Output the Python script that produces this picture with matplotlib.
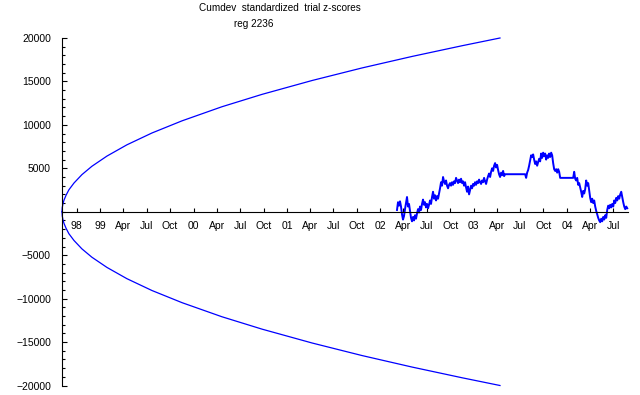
import matplotlib
matplotlib.use('Agg')
import matplotlib.pyplot as plt
import numpy as np
import pandas as pd

plt.rcParams['font.family'] = ['Liberation Sans', 'DejaVu Sans']

# project start, x axis is days since this date
start = pd.Timestamp('1998-08-04')

# envelope (upper branch)
env_days = [0, 1, 4, 8, 16, 27, 47, 78, 117, 176, 254, 352, 470, 626, 783,
            979, 1174, 1370, 1566, 1714]
env_vals = [0, 480, 956, 1351, 1911, 2528, 3310, 4274, 5234, 6410, 7704,
            9066, 10468, 12088, 13514, 15110, 16552, 17878, 19112, 20000]

# cumulative deviation, evenly sampled between these dates
walk_first = '2002-03-07'
walk_last = '2004-08-24'
walk_vals = [
    200, 1100, 700, 1200, 600, -300, -900, -500, 300, 1000,
    1700, 600, 900, 100, -700, -1100, -600, -1000, -400, -800,
    -200, 300, -100, 600, 200, 900, 1400, 800, 1100, 500,
    900, 400, 800, 1300, 900, 1700, 2300, 1500, 1900, 1300,
    1800, 1500, 2100, 2700, 3400, 3000, 4000, 3500, 3200, 3600,
    3000, 2700, 3100, 3300, 3000, 3400, 3100, 3500, 3300, 3900,
    3600, 3300, 3700, 3400, 3800, 3300, 3500, 3000, 3400, 2800,
    2300, 2900, 2000, 2500, 3000, 2700, 3200, 3000, 3400, 3100,
    3500, 3300, 3700, 3400, 3200, 3600, 3400, 3900, 3500, 3200,
    3700, 4100, 4400, 4000, 4600, 5000, 4700, 5300, 5600, 5100,
    5400, 4800, 4300, 4000, 4500, 4200, 4700, 4100,
    4320, 4320, 4320, 4320, 4320, 4320, 4320, 4320, 4320, 4320,
    4320, 4320, 4320, 4320, 4320, 4320, 4320, 4320, 4320, 4320, 4320,
    3900, 4500, 4800, 5300, 5900, 6500, 6300, 6600, 6000, 5500,
    5800, 5300, 5700, 6100, 5800, 6700, 6200, 6800, 6400, 6700,
    6000, 6500, 6200, 6700, 6300, 6800, 6500, 5600, 4900, 4700,
    4900, 4500, 4900, 4600,
    3900, 3900, 3900, 3900, 3900, 3900, 3900, 3900, 3900, 3900,
    3900, 3900, 3900, 3900,
    4600, 3800, 3600, 3900, 3100, 3300, 2800, 2300, 1700, 2400,
    2100, 2600, 3600, 3000, 3300, 2400, 1600, 1100, 1500, 1000,
    1300, 600, 100, -300, -700, -1000, -1200, -800, -1100, -600,
    -900, -400, -700, 200, 700, 400, 800, 500, 900, 600,
    1300, 1000, 1600, 1300, 1800, 1500, 2000, 2300, 1700, 1100,
    600, 300, 600, 400,
]

tick_dates = pd.date_range('1998-10-01', '2004-07-01', freq='QS')
tick_labels = ['98', '99', 'Apr', 'Jul', 'Oct', '00', 'Apr', 'Jul', 'Oct',
               '01', 'Apr', 'Jul', 'Oct', '02', 'Apr', 'Jul', 'Oct',
               '03', 'Apr', 'Jul', 'Oct', '04', 'Apr', 'Jul']

y_ticks = [-20000, -15000, -10000, -5000, 5000, 10000, 15000, 20000]
y_labels = ['\u221220000', '\u221215000', '\u221210000', '\u22125000',
            '5000', '10000', '15000', '20000']

walk_dates = pd.date_range(walk_first, walk_last, periods=len(walk_vals))
walk_days = (walk_dates - start) / pd.Timedelta(days=1)
tick_days = (tick_dates - start) / pd.Timedelta(days=1)

fig = plt.figure(figsize=(6.4, 3.95), dpi=100)
ax = fig.add_axes([62/640, 9.5/395, 566/640, 347.5/395])

blue = '#0000ff'
ax.plot(env_days, env_vals, color=blue, lw=0.9, clip_on=False)
ax.plot(env_days, -np.array(env_vals), color=blue, lw=0.9, clip_on=False)
ax.plot(walk_days, walk_vals, color=blue, lw=1.4, clip_on=False)

ax.set_xlim(0, 2215)
ax.set_ylim(-20000, 20000)

for s in ['top', 'right']:
    ax.spines[s].set_visible(False)
ax.spines['left'].set_position(('data', 0))
ax.spines['bottom'].set_position(('data', 0))
ax.spines['left'].set_linewidth(0.8)
ax.spines['bottom'].set_linewidth(0.8)

ax.set_xticks(tick_days)
ax.set_xticklabels(tick_labels)
ax.set_yticks(y_ticks)
ax.set_yticklabels(y_labels)
ax.set_yticks(np.arange(-19000, 20000, 1000), minor=True)

ax.tick_params(axis='x', direction='in', length=3, width=0.8, pad=6.5, labelsize=7.5)
ax.tick_params(axis='y', which='major', direction='in', length=3.6, width=0.8, pad=8, labelsize=7.5)
ax.tick_params(axis='y', which='minor', direction='in', length=1.8, width=0.8)

fig.text(280/640, 1 - 11/395, 'Cumdev  standardized  trial z-scores',
         ha='center', va='baseline', fontsize=7.2)
fig.text(254/640, 1 - 27/395, 'reg 2236', ha='center', va='baseline', fontsize=7.2)

fig.savefig('out.png', dpi=100)
